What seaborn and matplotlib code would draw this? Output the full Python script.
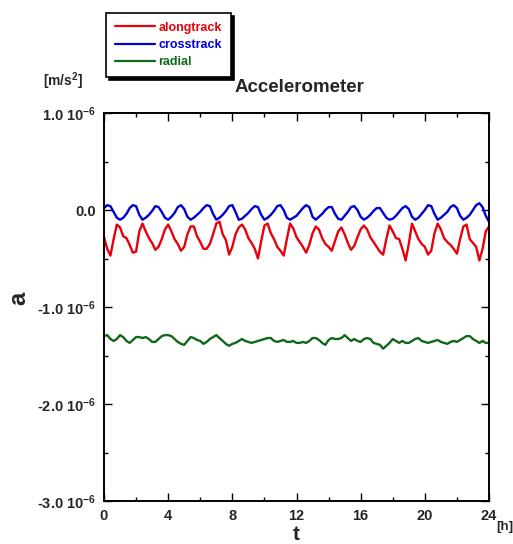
import numpy as np
import pandas as pd
import matplotlib
matplotlib.use("Agg")
import matplotlib.pyplot as plt
import seaborn as sns
from matplotlib.ticker import FixedLocator, FuncFormatter, MultipleLocator

# time step of samples [h]
dt_h = 0.2

# accelerations in units of 1e-6 m/s^2, one row per hour (5 samples) + final
alongtrack = [
    -0.28, -0.40, -0.47, -0.30, -0.15,
    -0.18, -0.27, -0.29, -0.36, -0.44,
    -0.43, -0.22, -0.14, -0.22, -0.29,
    -0.34, -0.41, -0.38, -0.30, -0.20,
    -0.15, -0.22, -0.30, -0.35, -0.42,
    -0.38, -0.25, -0.17, -0.17, -0.27,
    -0.33, -0.40, -0.40, -0.35, -0.25,
    -0.14, -0.12, -0.25, -0.31, -0.46,
    -0.38, -0.25, -0.18, -0.15, -0.20,
    -0.29, -0.34, -0.40, -0.50, -0.32,
    -0.16, -0.14, -0.24, -0.30, -0.38,
    -0.42, -0.47, -0.30, -0.14, -0.19,
    -0.28, -0.33, -0.38, -0.44, -0.36,
    -0.24, -0.17, -0.20, -0.29, -0.35,
    -0.38, -0.42, -0.32, -0.22, -0.18,
    -0.25, -0.34, -0.41, -0.37, -0.28,
    -0.20, -0.16, -0.20, -0.28, -0.33,
    -0.38, -0.43, -0.46, -0.30, -0.16,
    -0.22, -0.29, -0.30, -0.40, -0.52,
    -0.35, -0.14, -0.22, -0.30, -0.35,
    -0.38, -0.46, -0.42, -0.24, -0.14,
    -0.20, -0.29, -0.33, -0.36, -0.40,
    -0.45, -0.30, -0.17, -0.15, -0.30,
    -0.34, -0.38, -0.52, -0.40, -0.22,
    -0.17,
]

crosstrack = [
    0.02, 0.05, 0.04, -0.02, -0.08,
    -0.10, -0.08, -0.04, 0.02, 0.05,
    0.04, -0.05, -0.10, -0.08, -0.05,
    -0.01, 0.04, 0.03, -0.02, -0.08,
    -0.10, -0.07, -0.03, 0.03, 0.05,
    0.01, -0.07, -0.10, -0.08, -0.05,
    -0.02, 0.02, 0.05, 0.04, -0.04,
    -0.10, -0.08, -0.05, -0.01, 0.04,
    0.05, -0.02, -0.10, -0.09, -0.06,
    -0.03, 0.01, 0.04, 0.03, -0.05,
    -0.10, -0.08, -0.05, -0.01, 0.04,
    0.05, 0.00, -0.08, -0.10, -0.08,
    -0.06, -0.02, 0.02, 0.05, 0.03,
    -0.07, -0.10, -0.07, -0.04, 0.00,
    0.03, 0.03, -0.04, -0.09, -0.10,
    -0.06, -0.02, 0.03, 0.04, 0.00,
    -0.07, -0.10, -0.08, -0.05, -0.01,
    0.02, 0.02, -0.03, -0.08, -0.10,
    -0.09, -0.06, -0.02, 0.02, 0.04,
    0.01, -0.07, -0.10, -0.08, -0.04,
    0.00, 0.05, 0.04, -0.04, -0.10,
    -0.08, -0.05, -0.02, 0.03, 0.05,
    0.02, -0.06, -0.10, -0.08, -0.05,
    0.00, 0.05, 0.07, 0.03, -0.06,
    -0.12,
]

radial = [
    -1.30, -1.29, -1.33, -1.35, -1.33,
    -1.29, -1.31, -1.35, -1.37, -1.34,
    -1.31, -1.31, -1.32, -1.31, -1.33,
    -1.36, -1.36, -1.33, -1.30, -1.29,
    -1.29, -1.30, -1.33, -1.36, -1.38,
    -1.39, -1.35, -1.31, -1.32, -1.34,
    -1.35, -1.38, -1.36, -1.33, -1.31,
    -1.29, -1.32, -1.35, -1.38, -1.40,
    -1.38, -1.37, -1.35, -1.33, -1.35,
    -1.36, -1.37, -1.36, -1.35, -1.34,
    -1.33, -1.32, -1.32, -1.35, -1.36,
    -1.35, -1.34, -1.36, -1.36, -1.35,
    -1.37, -1.37, -1.36, -1.37, -1.35,
    -1.32, -1.32, -1.34, -1.37, -1.39,
    -1.34, -1.32, -1.33, -1.33, -1.32,
    -1.29, -1.32, -1.35, -1.33, -1.35,
    -1.36, -1.33, -1.32, -1.33, -1.37,
    -1.38, -1.39, -1.43, -1.40, -1.37,
    -1.33, -1.35, -1.37, -1.35, -1.37,
    -1.37, -1.35, -1.33, -1.32, -1.35,
    -1.36, -1.37, -1.36, -1.35, -1.34,
    -1.36, -1.37, -1.38, -1.36, -1.35,
    -1.36, -1.34, -1.32, -1.30, -1.30,
    -1.33, -1.35, -1.37, -1.35, -1.37,
    -1.37,
]

series_names = ["alongtrack", "crosstrack", "radial"]
series_colors = ["#e8000b", "#0000d8", "#10681a"]
y_tick_vals = [-3.0, -2.0, -1.0, 0.0, 1.0]
x_tick_vals = [0, 4, 8, 12, 16, 20, 24]

t = np.arange(len(alongtrack)) * dt_h
df = pd.concat([
    pd.DataFrame({"t": t, "a": np.array(v) * 1e-6, "comp": n})
    for n, v in zip(series_names, [alongtrack, crosstrack, radial])
])

sns.set_style("ticks")
plt.rcParams["font.family"] = ["Liberation Sans", "DejaVu Sans"]
plt.rcParams["font.weight"] = "bold"
plt.rcParams["mathtext.fontset"] = "custom"
plt.rcParams["mathtext.rm"] = "Liberation Sans:bold"
plt.rcParams["mathtext.it"] = "Liberation Sans:bold"
plt.rcParams["mathtext.bf"] = "Liberation Sans:bold"
plt.rcParams["axes.unicode_minus"] = False

W, H = 513, 544
fig = plt.figure(figsize=(W / 100, H / 100), dpi=100)
ax = fig.add_axes([104 / W, 43 / H, 385 / W, 388 / H])

sns.lineplot(data=df, x="t", y="a", hue="comp", hue_order=series_names,
             palette=dict(zip(series_names, series_colors)), lw=1.7, ax=ax,
             estimator=None, sort=False)

ax.set_xlim(0, 24)
ax.set_ylim(-3e-6, 1e-6)

ax.xaxis.set_major_locator(FixedLocator(x_tick_vals))
ax.xaxis.set_minor_locator(MultipleLocator(2))
ax.yaxis.set_major_locator(FixedLocator([v * 1e-6 for v in y_tick_vals]))
ax.yaxis.set_minor_locator(MultipleLocator(0.5e-6))


def yfmt(v, pos):
    m = v / 1e-6
    if abs(m) < 1e-9:
        return "0.0"
    return f"{m:.1f} 10$^{{-6}}$"


ax.yaxis.set_major_formatter(FuncFormatter(yfmt))
ax.xaxis.set_major_formatter(FuncFormatter(lambda v, p: f"{int(v)}"))
ax.yaxis.get_offset_text().set_visible(False)

ax.tick_params(which="both", direction="in", top=True, right=True,
               labelsize=10.5, width=1.0, color="black")
ax.tick_params(which="major", length=6)
ax.tick_params(which="minor", length=3)
ax.tick_params(axis="y", pad=6)
ax.tick_params(axis="x", pad=6)
for lab in ax.get_xticklabels() + ax.get_yticklabels():
    lab.set_fontweight("bold")
for s in ax.spines.values():
    s.set_linewidth(1.4)
    s.set_color("black")

ax.set_xlabel("")
ax.set_ylabel("")
fig.text(296 / W, 1 - 534 / H, "t", ha="center", va="center",
         fontsize=15, fontweight="bold")
fig.text(505 / W, 1 - 527 / H, "[h]", ha="center", va="center",
         fontsize=9.5, fontweight="bold")
fig.text(19 / W, 1 - 298 / H, "a", ha="center", va="center",
         fontsize=17, fontweight="bold", rotation=90)
fig.text(63 / W, 1 - 81 / H, "[m/s$^2$]", ha="center", va="center",
         fontsize=10, fontweight="bold")
fig.text(299 / W, 1 - 88 / H, "Accelerometer", ha="center", va="center",
         fontsize=13.5, fontweight="bold")

leg = ax.legend(loc="upper left", bbox_to_anchor=(106 / W, 1 - 13 / H),
                bbox_transform=fig.transFigure, borderaxespad=0,
                frameon=True, fancybox=False, shadow={"color": "black", "alpha": 1},
                edgecolor="black", framealpha=1, handlelength=3.2,
                handletextpad=0.3, labelspacing=0.42, borderpad=0.7,
                prop={"weight": "bold", "size": 9}, labelcolor="linecolor")
leg.get_frame().set_linewidth(1.2)
for ln in leg.get_lines():
    ln.set_linewidth(1.6)

fig.savefig("out.png", dpi=100)
